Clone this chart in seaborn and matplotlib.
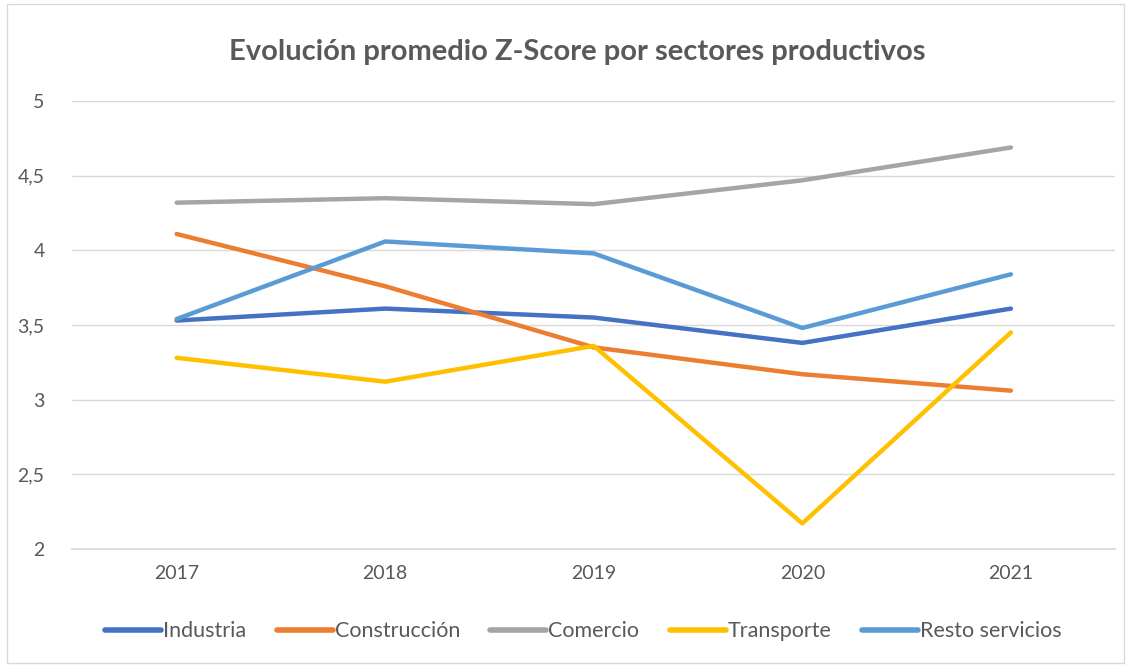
import matplotlib.pyplot as plt
import pandas as pd
import seaborn as sns
from matplotlib.patches import Rectangle

years = ['2017', '2018', '2019', '2020', '2021']
industria = [3.53, 3.61, 3.55, 3.38, 3.61]
construccion = [4.11, 3.76, 3.35, 3.17, 3.06]
comercio = [4.32, 4.35, 4.31, 4.47, 4.69]
transporte = [3.28, 3.12, 3.36, 2.17, 3.45]
resto = [3.54, 4.06, 3.98, 3.48, 3.84]

series = ['Industria', 'Construcción', 'Comercio', 'Transporte', 'Resto servicios']
colors = ['#4472C4', '#ED7D31', '#A5A5A5', '#FFC000', '#5B9BD5']

df = pd.DataFrame({'Año': years * 5,
                   'Sector': sum([[s] * 5 for s in series], []),
                   'Valor': industria + construccion + comercio + transporte + resto})

sns.set_theme(style='white')
plt.rcParams['font.family'] = ['Lato', 'DejaVu Sans']

fig = plt.figure(figsize=(11.31, 6.66), dpi=100)
ax = fig.add_axes([0.064, 0.176, 0.922, 0.672])
sns.lineplot(data=df, x='Año', y='Valor', hue='Sector', palette=colors,
             linewidth=3.2, sort=False, ax=ax)

ax.set_xlim(-0.5, 4.5)
ax.set_ylim(2, 5)
ax.set_yticks([2, 2.5, 3, 3.5, 4, 4.5, 5])
ax.set_yticklabels(['2', '2,5', '3', '3,5', '4', '4,5', '5'])
ax.grid(axis='y', color='#D9D9D9', linewidth=1)
ax.set_axisbelow(True)
for s in ax.spines.values():
    s.set_visible(False)
ax.spines['bottom'].set_visible(True)
ax.spines['bottom'].set_color('#D9D9D9')
ax.tick_params(axis='both', colors='#595959', labelsize=14, length=0)
ax.tick_params(axis='y', pad=20)
ax.tick_params(axis='x', pad=12)
ax.set_xlabel('')
ax.set_ylabel('')

leg = ax.legend(loc='lower center', bbox_to_anchor=(0.49, -0.25), ncol=5,
                frameon=False, fontsize=15.5, handlelength=2.6, handletextpad=0.1,
                columnspacing=1.4)
for t in leg.get_texts():
    t.set_color('#595959')
for h in leg.get_lines():
    h.set_linewidth(4)

fig.text(0.51, 0.922, 'Evolución promedio Z-Score por sectores productivos',
         ha='center', va='center', fontsize=21, fontweight='bold', color='#595959')

fig.patches.append(Rectangle((0.006, 0.004), 0.988, 0.99, transform=fig.transFigure,
                             fill=False, edgecolor='#D9D9D9', linewidth=1))

fig.savefig('out.png', dpi=100)
